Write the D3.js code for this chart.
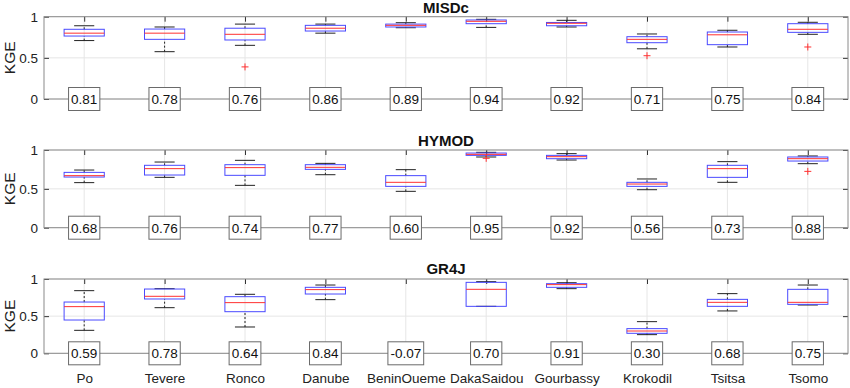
<!DOCTYPE html>
<html>
<head>
<meta charset="utf-8">
<script src="https://cdn.jsdelivr.net/npm/d3@7"></script>
<style>
  body { margin: 0; background: #fff; }
  svg { font-family: Arial, "Liberation Sans", sans-serif; }
</style>
</head>
<body>
<script>
// catchments on the x axis
const catchments = ["Po", "Tevere", "Ronco", "Danube", "BeninOueme", "DakaSaidou", "Gourbassy", "Krokodil", "Tsitsa", "Tsomo"];
const yTicks = [0, 0.5, 1];

// box stats per catchment: [lower whisker, q1, median, q3, upper whisker]
const misdcBox = [
  [0.71, 0.765, 0.80, 0.847, 0.89],
  [0.575, 0.725, 0.80, 0.85, 0.875],
  [0.652, 0.717, 0.786, 0.86, 0.91],
  [0.80, 0.826, 0.86, 0.895, 0.91],
  [0.866, 0.875, 0.895, 0.91, 0.927],
  [0.87, 0.915, 0.944, 0.96, 0.968],
  [0.875, 0.89, 0.92, 0.93, 0.956],
  [0.61, 0.684, 0.725, 0.757, 0.79],
  [0.632, 0.66, 0.78, 0.814, 0.835],
  [0.786, 0.81, 0.847, 0.915, 0.932]
];
const misdcOut = [[], [], [0.39], [], [], [], [], [0.526], [], [0.632]];
const misdcKGE = [0.81, 0.78, 0.76, 0.86, 0.89, 0.94, 0.92, 0.71, 0.75, 0.84];

const hymodBox = [
  [0.58, 0.652, 0.67, 0.712, 0.742],
  [0.648, 0.678, 0.76, 0.803, 0.845],
  [0.545, 0.674, 0.773, 0.811, 0.867],
  [0.682, 0.751, 0.777, 0.811, 0.828],
  [0.468, 0.532, 0.584, 0.67, 0.747],
  [0.91, 0.931, 0.944, 0.961, 0.97],
  [0.871, 0.888, 0.914, 0.931, 0.953],
  [0.489, 0.532, 0.562, 0.584, 0.627],
  [0.584, 0.648, 0.76, 0.803, 0.85],
  [0.824, 0.858, 0.888, 0.91, 0.923]
];
const hymodOut = [[], [], [], [], [], [0.893], [], [], [], [0.725]];
const hymodKGE = [0.68, 0.76, 0.74, 0.77, 0.60, 0.95, 0.92, 0.56, 0.73, 0.88];

const gr4jBox = [
  [0.309, 0.448, 0.628, 0.69, 0.843],
  [0.614, 0.731, 0.767, 0.865, 0.87],
  [0.354, 0.56, 0.682, 0.762, 0.794],
  [0.722, 0.798, 0.857, 0.888, 0.919],
  [-0.45, -0.25, -0.12, -0.04, -0.01],
  [0.632, 0.632, 0.861, 0.955, 0.964],
  [0.87, 0.888, 0.924, 0.937, 0.95],
  [0.251, 0.269, 0.30, 0.332, 0.426],
  [0.57, 0.632, 0.686, 0.726, 0.803],
  [0.65, 0.659, 0.686, 0.861, 0.919]
];
const gr4jOut = [[], [], [], [], [], [], [], [], [], []];
const gr4jKGE = [0.59, 0.78, 0.64, 0.84, -0.07, 0.70, 0.91, 0.30, 0.68, 0.75];

const width = 850, height = 388;
const left = 44, right = 848;

const panels = [
  { title: "MISDc", box: misdcBox, out: misdcOut, kge: misdcKGE, top: 16.7, bottom: 99, titleY: 12.7 },
  { title: "HYMOD", box: hymodBox, out: hymodOut, kge: hymodKGE, top: 150, bottom: 227.7, titleY: 145.7 },
  { title: "GR4J", box: gr4jBox, out: gr4jOut, kge: gr4jKGE, top: 279, bottom: 353.3, titleY: 274 }
];

const svg = d3.select("body").append("svg")
  .attr("width", width)
  .attr("height", height);

const x = d3.scaleLinear().domain([0.5, catchments.length + 0.5]).range([left, right]);
const idx = d3.range(1, catchments.length + 1);

panels.forEach((p, pi) => {
  const y = d3.scaleLinear().domain([0, 1]).range([p.bottom, p.top]);
  const g = svg.append("g");

  g.append("clipPath").attr("id", "clip" + pi)
    .append("rect")
    .attr("x", left).attr("y", p.top)
    .attr("width", right - left).attr("height", p.bottom - p.top);

  // grid
  g.selectAll(".vgrid").data(idx).enter().append("line")
    .attr("x1", d => x(d)).attr("x2", d => x(d))
    .attr("y1", p.top).attr("y2", p.bottom)
    .attr("stroke", "#e6e6e6").attr("stroke-width", 1);
  g.selectAll(".hgrid").data(yTicks).enter().append("line")
    .attr("x1", left).attr("x2", right)
    .attr("y1", d => y(d)).attr("y2", d => y(d))
    .attr("stroke", "#e6e6e6").attr("stroke-width", 1);

  // axes with inward ticks
  const yAxis = g.append("g").attr("transform", `translate(${left},0)`)
    .call(d3.axisLeft(y).tickValues(yTicks).tickSize(-5).tickPadding(6).tickFormat(d3.format("")));
  const yAxisR = g.append("g").attr("transform", `translate(${right},0)`)
    .call(d3.axisRight(y).tickValues(yTicks).tickSize(-5).tickFormat(""));
  const xTop = g.append("g").attr("transform", `translate(0,${p.top})`)
    .call(d3.axisTop(x).tickValues(idx).tickSize(-5).tickFormat(""));
  [yAxis, yAxisR, xTop].forEach(a => {
    a.select(".domain").remove();
    a.selectAll(".tick line").attr("stroke", "#333");
  });
  yAxis.selectAll("text").attr("font-size", 13.5).attr("fill", "#222").attr("font-family", null);

  // axes box
  g.append("rect")
    .attr("x", left).attr("y", p.top)
    .attr("width", right - left).attr("height", p.bottom - p.top)
    .attr("fill", "none").attr("stroke", "#8a8a8a").attr("stroke-width", 1);

  g.append("text")
    .attr("transform", `translate(14.5,${(p.top + p.bottom) / 2}) rotate(-90)`)
    .attr("text-anchor", "middle")
    .attr("font-size", 15.5).attr("fill", "#222")
    .text("KGE");

  g.append("text")
    .attr("x", (left + right) / 2).attr("y", p.titleY)
    .attr("text-anchor", "middle")
    .attr("font-size", 15).attr("font-weight", "bold").attr("fill", "#111")
    .text(p.title);

  // box plots
  const boxW = (x(1.5) - x(1)) ;
  const capW = boxW / 2;
  const plot = g.append("g").attr("clip-path", `url(#clip${pi})`);
  const bx = plot.selectAll(".bx").data(p.box).enter().append("g");

  bx.append("line") // lower whisker
    .attr("x1", (d, i) => x(i + 1)).attr("x2", (d, i) => x(i + 1))
    .attr("y1", d => y(d[0])).attr("y2", d => y(d[1]))
    .attr("stroke", "#222").attr("stroke-dasharray", "2,2");
  bx.append("line") // upper whisker
    .attr("x1", (d, i) => x(i + 1)).attr("x2", (d, i) => x(i + 1))
    .attr("y1", d => y(d[3])).attr("y2", d => y(d[4]))
    .attr("stroke", "#222").attr("stroke-dasharray", "2,2");
  [0, 4].forEach(k => {
    bx.append("line")
      .attr("x1", (d, i) => x(i + 1) - capW / 2).attr("x2", (d, i) => x(i + 1) + capW / 2)
      .attr("y1", d => y(d[k])).attr("y2", d => y(d[k]))
      .attr("stroke", "#222");
  });
  bx.append("rect")
    .attr("x", (d, i) => x(i + 1) - boxW / 2)
    .attr("y", d => y(d[3]))
    .attr("width", boxW)
    .attr("height", d => y(d[1]) - y(d[3]))
    .attr("fill", "none").attr("stroke", "#4a4aff").attr("stroke-width", 1);
  bx.append("line")
    .attr("x1", (d, i) => x(i + 1) - boxW / 2).attr("x2", (d, i) => x(i + 1) + boxW / 2)
    .attr("y1", d => y(d[2])).attr("y2", d => y(d[2]))
    .attr("stroke", "#ff3030").attr("stroke-width", 1);

  // outliers
  p.out.forEach((vals, i) => {
    vals.forEach(v => {
      plot.append("path")
        .attr("d", `M${x(i + 1) - 3.5},${y(v)}h7M${x(i + 1)},${y(v) - 3.5}v7`)
        .attr("stroke", "#ff3030").attr("stroke-width", 1);
    });
  });

  // KGE value labels on the zero line
  const lab = g.selectAll(".lab").data(p.kge).enter().append("g")
    .attr("transform", (d, i) => `translate(${x(i + 1)},${y(0)})`);
  lab.append("rect");
  const texts = lab.append("text")
    .attr("text-anchor", "middle").attr("y", 4.8)
    .attr("font-size", 13.5).attr("fill", "#111")
    .text(d => d.toFixed(2));
  texts.each(function () {
    const w = this.getBBox().width + 5;
    d3.select(this.previousSibling)
      .attr("x", -w / 2).attr("y", -11.5)
      .attr("width", w).attr("height", 23)
      .attr("fill", "#fff").attr("stroke", "#6a6a6a").attr("stroke-width", 1);
  });

  // catchment names under the last panel
  if (pi === panels.length - 1) {
    const xBottom = g.append("g").attr("transform", `translate(0,${p.bottom})`)
      .call(d3.axisBottom(x).tickValues(idx).tickSize(0).tickPadding(20)
        .tickFormat(d => catchments[d - 1]));
    xBottom.select(".domain").remove();
    xBottom.selectAll("text").attr("font-size", 13.5).attr("fill", "#222").attr("font-family", null);
  }
});
</script>
</body>
</html>
